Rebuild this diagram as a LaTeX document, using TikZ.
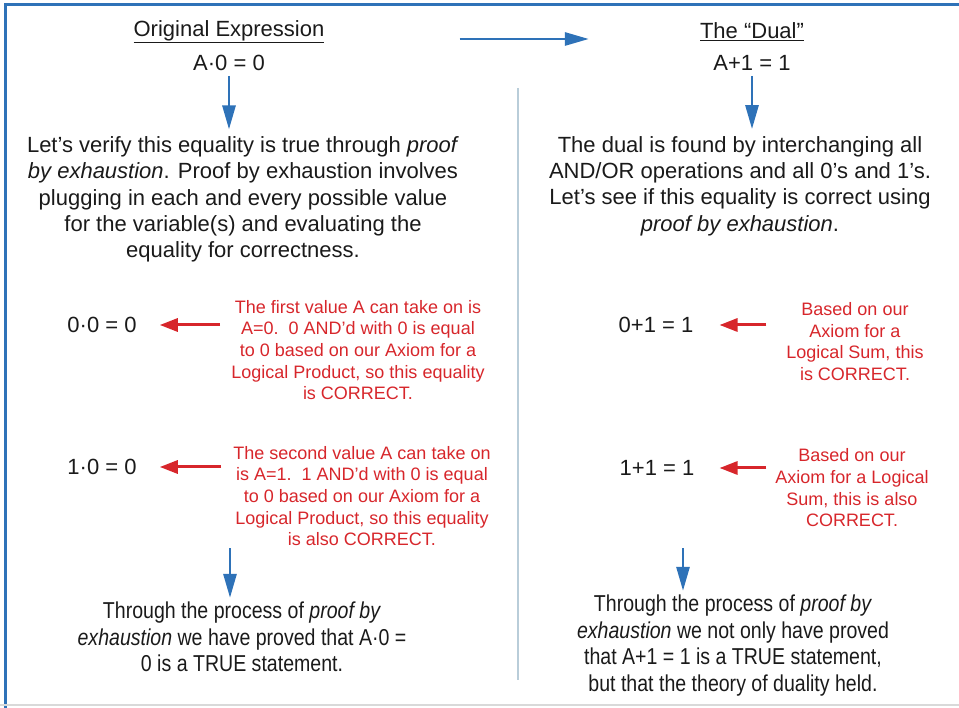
\documentclass[tikz,border=0pt]{standalone}
\usepackage{fontspec}
\setmainfont{Liberation Sans}
\newfontfamily\narrowfont{Liberation Sans}[FakeStretch=0.85]
\usetikzlibrary{arrows.meta, positioning}
\definecolor{arrblue}{HTML}{2E72B8}
\definecolor{notered}{HTML}{D7262B}
\definecolor{divgray}{HTML}{B9CDD9}
\definecolor{ink}{HTML}{1A1A1A}
\tikzset{
    ttl/.style={font=\fontsize{22}{26}\selectfont, text=ink, inner sep=1pt},
    eqn/.style={font=\fontsize{22}{26}\selectfont, text=ink, inner sep=2pt},
    para/.style={align=center, font=\fontsize{22}{26.3}\selectfont, text=ink, inner sep=2pt},
    concl/.style={align=center, font=\narrowfont\fontsize{23}{26.5}\selectfont, text=ink, inner sep=2pt},
    note/.style={align=center, font=\fontsize{18}{21.7}\selectfont, text=notered, inner sep=2pt},
    bluearr/.style={-{Triangle[length=24pt,width=13pt]}, line width=2.8pt, arrblue},
    redarr/.style={-{Triangle[length=18pt,width=13pt]}, line width=3pt, notered}
}

\begin{document}
\begin{tikzpicture}[x=1pt, y=-1pt]
    \useasboundingbox (0,0) rectangle (959,708);
    % frame and divider
    \draw[arrblue, line width=3pt] (5,708) -- (5,5) -- (959,5);
    \draw[black!15, line width=1.5pt] (0,705) -- (959,705);
    \draw[divgray, line width=1.5pt] (518,88) -- (518,680);
    % left column
    \node[ttl] (origttl) at (229,32) {\underline{Original Expression}};
    \node[eqn] (origeq) at (229,63) {A·0 = 0};
    \node[para] (origpara) at (243,199.5) {Let’s verify this equality is true through \textit{proof}\\
        \textit{by exhaustion}. Proof by exhaustion involves\\
        plugging in each and every possible value\\
        for the variable(s) and evaluating the\\
        equality for correctness.};
    \node[eqn] (eqa) at (102,325) {0·0 = 0};
    \node[note] (notea) at (358,350) {The first value A can take on is\\
        A=0.\ \ 0 AND’d with 0 is equal\\
        to 0 based on our Axiom for a\\
        Logical Product, so this equality\\
        is CORRECT.};
    \node[eqn] (eqb) at (102,467) {1·0 = 0};
    \node[note] (noteb) at (362,496) {The second value A can take on\\
        is A=1.\ \ 1 AND’d with 0 is equal\\
        to 0 based on our Axiom for a\\
        Logical Product, so this equality\\
        is also CORRECT.};
    \node[concl] (conclA) at (242,637) {Through the process of \textit{proof by}\\
        \textit{exhaustion} we have proved that A·0 =\\
        0 is a TRUE statement.};
    % right column
    \node[ttl] (dualttl) at (752,32) {\underline{The “Dual”}};
    \node[eqn] (dualeq) at (752,63) {A+1 = 1};
    \node[para] (dualpara) at (740,186) {The dual is found by interchanging all\\
        AND/OR operations and all 0's and 1's.\\
        Let’s see if this equality is correct using\\
        \textit{proof by exhaustion}.};
    \node[eqn] (eqc) at (656,325) {0+1 = 1};
    \node[note] (notec) at (855,341.5) {Based on our\\
        Axiom for a\\
        Logical Sum, this\\
        is CORRECT.};
    \node[eqn] (eqd) at (657,468) {1+1 = 1};
    \node[note] (noted) at (852,488) {Based on our\\
        Axiom for a Logical\\
        Sum, this is also\\
        CORRECT.};
    \node[concl] (conclB) at (733,645.5) {Through the process of \textit{proof by}\\
        \textit{exhaustion} we not only have proved\\
        that A+1 = 1 is a TRUE statement,\\
        but that the theory of duality held.};
    % connectors
    \draw[bluearr] ([yshift=-7pt,xshift=134pt]origttl.east) -- ([yshift=-7pt,xshift=-110pt]dualttl.west);
    \draw[bluearr, shorten <=3pt, shorten >=5pt] (origeq.south) -- (origeq.south |- origpara.north);
    \draw[bluearr, shorten <=3pt, shorten >=5pt] (dualeq.south) -- (dualeq.south |- dualpara.north);
    \draw[redarr, shorten <=9pt, shorten >=21pt] (notea.west |- eqa) -- (eqa.east);
    \draw[redarr, shorten <=10pt, shorten >=21pt] (noteb.west |- eqb) -- (eqb.east);
    \draw[redarr, shorten <=18pt, shorten >=24pt] (notec.west |- eqc) -- (eqc.east);
    \draw[redarr, shorten <=7pt, shorten >=23pt] (noted.west |- eqd) -- (eqd.east);
    \coordinate (stemA) at (230,548);
    \coordinate (stemB) at (683,548);
    \draw[bluearr, shorten >=2pt] (stemA) -- (stemA |- conclA.north);
    \draw[bluearr, shorten >=2pt] (stemB) -- (stemB |- conclB.north);
\end{tikzpicture}
\end{document}
